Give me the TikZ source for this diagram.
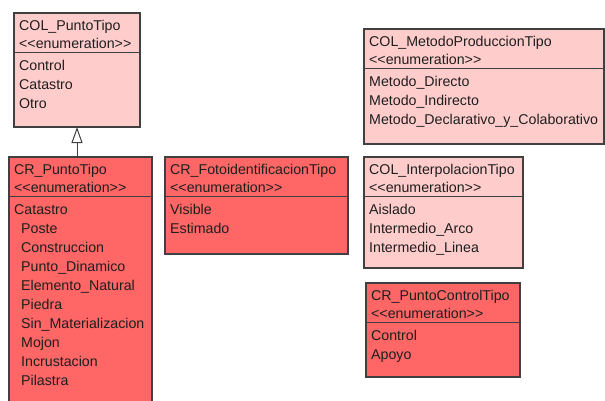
\documentclass[tikz,border=0pt]{standalone}
\usepackage{fontspec}
\setmainfont{Liberation Sans}
\usetikzlibrary{arrows.meta}

\definecolor{enumlight}{HTML}{FFCCCC}
\definecolor{enumred}{HTML}{FF6666}
\definecolor{umledge}{HTML}{404040}
\definecolor{umlink}{HTML}{1E1E1E}

\tikzset{
  classbox/.style={draw=umledge, line width=1.1pt, anchor=north west,
    inner sep=0pt, outer sep=0pt},
  lightbox/.style={classbox, fill=enumlight},
  redbox/.style={classbox, fill=enumred},
  txt/.style={anchor=base west, inner sep=0pt, text=umlink,
    font=\fontsize{14.2}{19}\selectfont},
  divider/.style={draw=umledge, line width=1.1pt},
  generalization/.style={draw=umledge, line width=1pt,
    -{Triangle[open, length=16pt, width=11pt]}},
}

% enumeration box: name, fill style, left, top, right, bottom, title, literals
\newcommand\umlenum[8]{%
  \node[#2, minimum width={#5-#3}, minimum height={#6-#4}] (#1) at (#3,#4) {};
  \draw[divider] ([yshift=-39.5pt]#1.north west) -- ([yshift=-39.5pt]#1.north east);
  \node[txt] (#1-title) at ([xshift=5pt,yshift=-17pt]#1.north west) {#7};
  \node[txt] (#1-stereo) at ([xshift=5pt,yshift=-35pt]#1.north west)
    {{<}{<}enumeration{>}{>}};
  \foreach \lit [count=\k] in {#8}
    \node[txt] (#1-lit\k) at ([xshift=5pt,yshift={(-57.5-19*(\k-1))*1pt}]#1.north west) {\lit};
}

\begin{document}
\begin{tikzpicture}[x=1pt, y=-1pt]
  \useasboundingbox (0,0) rectangle (605,400);
  \clip (0,0) rectangle (605,400);

  \umlenum{colpunto}{lightbox}{14}{13}{140}{127}{COL\_PuntoTipo}
    {Control, Catastro, Otro}
  \umlenum{crpunto}{redbox}{9}{157}{152}{412}{CR\_PuntoTipo}
    {Catastro, \hspace*{7pt}Poste, \hspace*{7pt}Construccion,
     \hspace*{7pt}Punto\_Dinamico, \hspace*{7pt}Elemento\_Natural,
     \hspace*{7pt}Piedra, \hspace*{7pt}Sin\_Materializacion,
     \hspace*{7pt}Mojon, \hspace*{7pt}Incrustacion, \hspace*{7pt}Pilastra}
  \umlenum{crfoto}{redbox}{165}{157}{348}{254}{CR\_FotoidentificacionTipo}
    {Visible, Estimado}
  \umlenum{colmetodo}{lightbox}{364}{29}{604}{144}{COL\_MetodoProduccionTipo}
    {Metodo\_Directo, Metodo\_Indirecto, Metodo\_Declarativo\_y\_Colaborativo}
  \umlenum{colinterp}{lightbox}{364}{157}{523}{268}{COL\_InterpolacionTipo}
    {Aislado, Intermedio\_Arco, Intermedio\_Linea}
  \umlenum{crcontrol}{redbox}{366}{283}{520}{377}{CR\_PuntoControlTipo}
    {Control, Apoyo}

  % CR_PuntoTipo specialises COL_PuntoTipo
  \draw[generalization] (colpunto.south |- crpunto.north) -- (colpunto.south);
\end{tikzpicture}
\end{document}
